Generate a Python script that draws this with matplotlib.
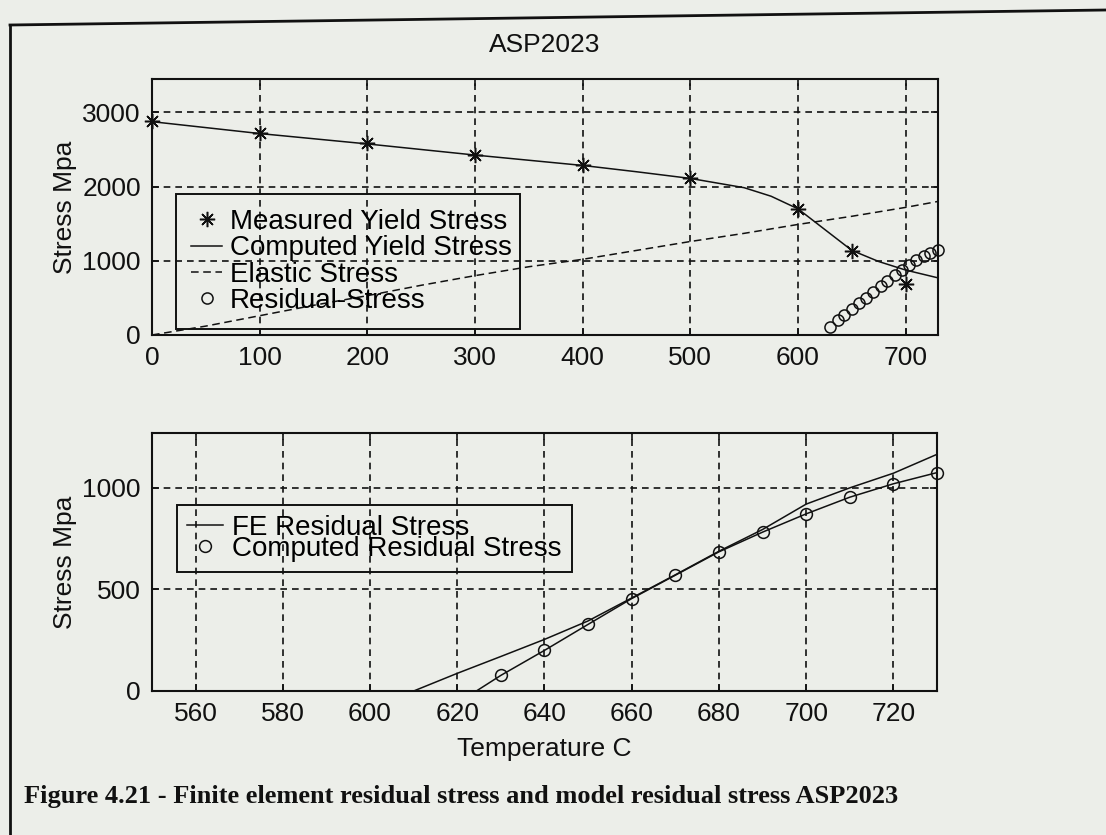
import matplotlib
matplotlib.use("Agg")
import matplotlib.pyplot as plt
from matplotlib.lines import Line2D

# top panel: yield / elastic / residual vs temperature
meas_temp = [0, 100, 200, 300, 400, 500, 600, 650, 700]
meas_yield = [2885, 2725, 2585, 2430, 2285, 2120, 1700, 1130, 690]

comp_temp = [0, 50, 100, 150, 200, 250, 300, 350, 400, 450, 500, 550, 575,
             600, 625, 650, 675, 700, 730]
comp_yield = [2875, 2795, 2715, 2645, 2575, 2500, 2425, 2355, 2285, 2200, 2110,
              1985, 1870, 1700, 1420, 1140, 990, 875, 770]

elastic_temp = [0, 50, 100, 150, 200, 250, 300, 350, 400, 450, 500, 550, 600,
                650, 700, 730]
elastic = [0, 120, 260, 400, 530, 670, 800, 920, 1020, 1140, 1260, 1370, 1490,
           1600, 1720, 1800]

res_temp = [630, 637, 643, 650, 657, 663, 670, 677, 683, 690, 697, 703, 710,
            717, 723, 730]
res_top = [110, 200, 270, 350, 430, 500, 580, 660, 730, 810, 880, 950, 1010,
           1060, 1110, 1150]

# bottom panel: FE vs computed residual stress
fe_temp = [610, 620, 630, 640, 650, 660, 670, 680, 690, 700, 710, 720, 730]
fe_res = [0, 87, 170, 254, 345, 458, 572, 688, 795, 920, 1000, 1072, 1165]

cr_temp = [620, 630, 640, 650, 660, 670, 680, 690, 700, 710, 720, 730]
cr_res = [-60, 77, 200, 328, 455, 570, 685, 782, 872, 954, 1020, 1075]

BG = "#eceee9"
K = "#111111"
FS = 19
LFS = 20

plt.rcParams["font.family"] = ["Liberation Sans", "DejaVu Sans"]

fig = plt.figure(figsize=(11.06, 8.35), dpi=100, facecolor=BG)
ax1 = fig.add_axes([152 / 1106, 1 - 335 / 835, 786 / 1106, 256 / 835])
ax2 = fig.add_axes([152 / 1106, 1 - 691 / 835, 785 / 1106, 258 / 835])


def style(ax):
    ax.set_facecolor("none")
    for s in ax.spines.values():
        s.set_linewidth(1.5)
        s.set_color(K)
    ax.tick_params(direction="in", top=True, right=True, length=5, width=1.2,
                   labelsize=FS, pad=8, colors=K)
    ax.grid(True, color=K, linestyle=(0, (4, 3)), linewidth=1.2)


style(ax1)
ax1.plot(meas_temp, meas_yield, linestyle="none", marker=(8, 2, 0), ms=11,
         mew=1.1, color=K, clip_on=False, label="Measured Yield Stress")
ax1.plot(comp_temp, comp_yield, "-", lw=1.1, color=K, label="Computed Yield Stress")
ax1.plot(elastic_temp, elastic, linestyle=(0, (5, 3)), lw=1.1, color=K,
         label="Elastic Stress")
ax1.plot(res_temp, res_top, linestyle="none", marker="o", ms=8, mfc="none",
         mew=1.1, color=K, clip_on=False, label="Residual-Stress")
ax1.set_xlim(0, 730)
ax1.set_ylim(0, 3450)
ax1.set_xticks([0, 100, 200, 300, 400, 500, 600, 700])
ax1.set_yticks([0, 1000, 2000, 3000])
ax1.set_ylabel("Stress Mpa", fontsize=FS, labelpad=4, color=K)
ax1.set_title("ASP2023", fontsize=FS, pad=19.5, color=K)

leg1 = ax1.legend(loc="upper left", bbox_to_anchor=(0.0305, 0.551, 0.4377, 0),
                  mode="expand", borderaxespad=0, fontsize=LFS, fancybox=False,
                  edgecolor=K, facecolor="none", framealpha=1, handlelength=1.1,
                  handletextpad=0.3, borderpad=0.55, labelspacing=0.01)
leg1.get_frame().set_linewidth(1.4)

style(ax2)
ax2.plot(fe_temp, fe_res, "-", lw=1.1, color=K, label="FE Residual Stress")
ax2.plot(cr_temp, cr_res, "-", lw=1.1, color=K)
ax2.plot(cr_temp[1:], cr_res[1:], linestyle="none", marker="o", ms=8.5,
         mfc="none", mew=1.1, color=K, clip_on=False,
         label="Computed Residual Stress")
ax2.set_xlim(550, 730)
ax2.set_ylim(0, 1270)
ax2.set_xticks([560, 580, 600, 620, 640, 660, 680, 700, 720])
ax2.set_yticks([0, 500, 1000])
ax2.set_ylabel("Stress Mpa", fontsize=FS, labelpad=4, color=K)
ax2.set_xlabel("Temperature C", fontsize=FS, labelpad=7.5, color=K)

leg2 = ax2.legend(loc="upper left", bbox_to_anchor=(0.032, 0.7217, 0.503, 0),
                  mode="expand", borderaxespad=0, fontsize=LFS, fancybox=False,
                  edgecolor=K, facecolor="none", framealpha=1, handlelength=1.3,
                  handletextpad=0.3, borderpad=0.36, labelspacing=-0.19)
leg2.get_frame().set_linewidth(1.4)

# page frame and caption of the scanned figure
fig.add_artist(Line2D([10 / 1106, 10 / 1106], [0, 1 - 25 / 835],
                      transform=fig.transFigure, color=K, lw=2))
fig.add_artist(Line2D([10 / 1106, 1], [1 - 25 / 835, 1 - 10 / 835],
                      transform=fig.transFigure, color=K, lw=2))
fig.text(24 / 1106, 1 - 797 / 835,
         "Figure 4.21 - Finite element residual stress and model residual stress ASP2023",
         fontsize=FS, fontweight="bold", family=["Liberation Serif", "DejaVu Serif"],
         va="center", ha="left", color=K)

fig.savefig("out.png", dpi=100, facecolor=BG)
